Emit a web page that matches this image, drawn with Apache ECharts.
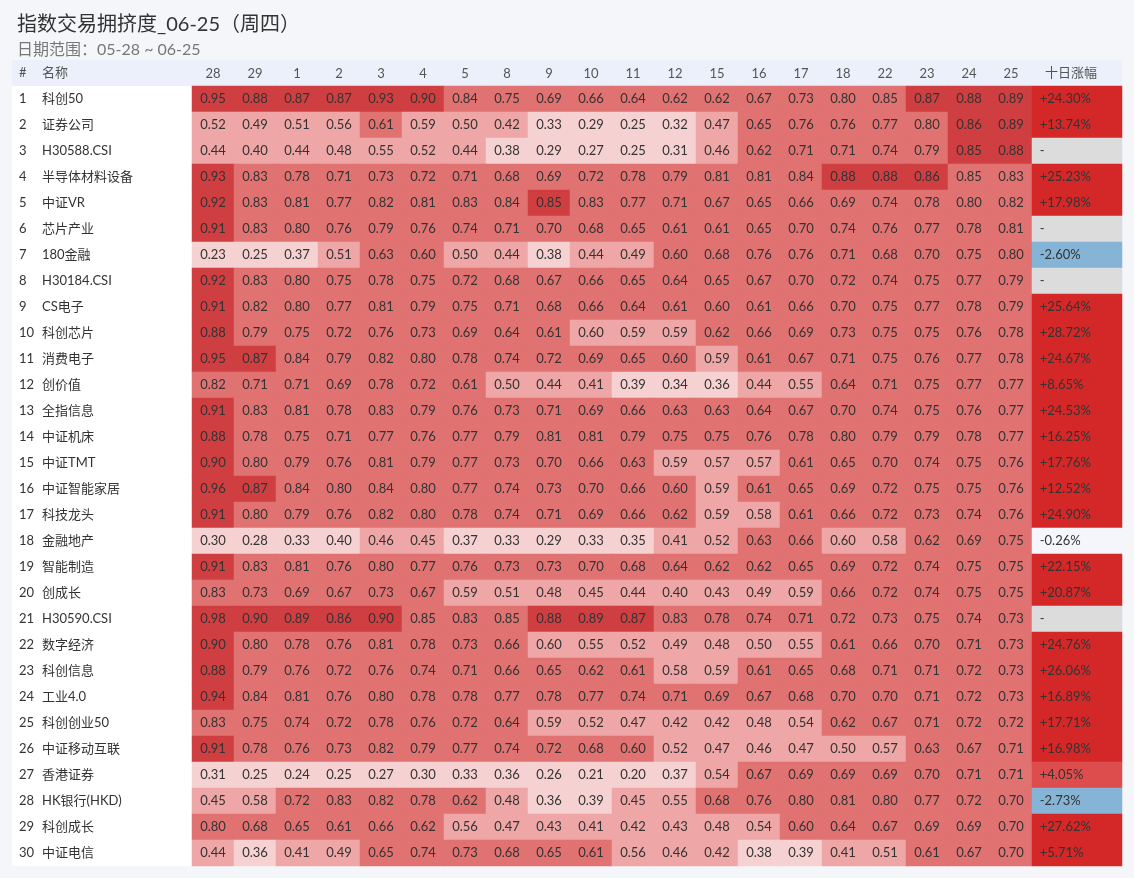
<!DOCTYPE html>
<html>
<head>
<meta charset="utf-8">
<script src="https://cdn.jsdelivr.net/npm/echarts@6/dist/echarts.min.js"></script>
<style>
html,body{margin:0;padding:0;background:#f4f6fa;}
#main{width:1134px;height:878px;}
</style>
</head>
<body>
<div id="main"></div>
<script>
const dates = ['28','29','1','2','3','4','5','8','9','10','11','12','15','16','17','18','22','23','24','25'];
const names = ['科创50','证券公司','H30588.CSI','半导体材料设备','中证VR','芯片产业','180金融','H30184.CSI','CS电子','科创芯片',
  '消费电子','创价值','全指信息','中证机床','中证TMT','中证智能家居','科技龙头','金融地产','智能制造','创成长',
  'H30590.CSI','数字经济','科创信息','工业4.0','科创创业50','中证移动互联','香港证券','HK银行(HKD)','科创成长','中证电信'];
const crowding = [
  [0.95,0.88,0.87,0.87,0.93,0.90,0.84,0.75,0.69,0.66,0.64,0.62,0.62,0.67,0.73,0.80,0.847,0.87,0.88,0.89],
  [0.52,0.49,0.51,0.56,0.61,0.59,0.50,0.42,0.33,0.29,0.25,0.32,0.47,0.65,0.76,0.76,0.77,0.80,0.86,0.89],
  [0.44,0.40,0.44,0.48,0.55,0.52,0.44,0.38,0.29,0.27,0.25,0.31,0.46,0.62,0.71,0.71,0.74,0.79,0.85,0.88],
  [0.93,0.83,0.78,0.71,0.73,0.72,0.71,0.68,0.69,0.72,0.78,0.79,0.81,0.81,0.84,0.88,0.88,0.86,0.848,0.83],
  [0.92,0.83,0.81,0.77,0.82,0.81,0.83,0.84,0.85,0.83,0.77,0.71,0.67,0.65,0.66,0.69,0.74,0.78,0.80,0.82],
  [0.91,0.83,0.80,0.76,0.79,0.76,0.74,0.71,0.70,0.68,0.65,0.61,0.61,0.65,0.70,0.74,0.76,0.77,0.78,0.81],
  [0.23,0.25,0.37,0.51,0.63,0.60,0.50,0.44,0.38,0.44,0.49,0.60,0.68,0.76,0.76,0.71,0.68,0.70,0.75,0.80],
  [0.92,0.83,0.80,0.75,0.78,0.75,0.72,0.68,0.67,0.66,0.65,0.64,0.65,0.67,0.70,0.72,0.74,0.75,0.77,0.79],
  [0.91,0.82,0.80,0.77,0.81,0.79,0.75,0.71,0.68,0.66,0.64,0.61,0.60,0.61,0.66,0.70,0.75,0.77,0.78,0.79],
  [0.88,0.79,0.75,0.72,0.76,0.73,0.69,0.64,0.61,0.598,0.59,0.59,0.62,0.66,0.69,0.73,0.75,0.75,0.76,0.78],
  [0.95,0.87,0.84,0.79,0.82,0.80,0.78,0.74,0.72,0.69,0.65,0.60,0.59,0.61,0.67,0.71,0.75,0.76,0.77,0.78],
  [0.82,0.71,0.71,0.69,0.78,0.72,0.61,0.50,0.44,0.41,0.39,0.34,0.36,0.44,0.55,0.64,0.71,0.75,0.77,0.77],
  [0.91,0.83,0.81,0.78,0.83,0.79,0.76,0.73,0.71,0.69,0.66,0.63,0.63,0.64,0.67,0.70,0.74,0.75,0.76,0.77],
  [0.88,0.78,0.75,0.71,0.77,0.76,0.77,0.79,0.81,0.81,0.79,0.75,0.75,0.76,0.78,0.80,0.79,0.79,0.78,0.77],
  [0.90,0.80,0.79,0.76,0.81,0.79,0.77,0.73,0.70,0.66,0.63,0.59,0.57,0.57,0.61,0.65,0.70,0.74,0.75,0.76],
  [0.96,0.87,0.84,0.80,0.84,0.80,0.77,0.74,0.73,0.70,0.66,0.60,0.59,0.61,0.65,0.69,0.72,0.75,0.75,0.76],
  [0.91,0.80,0.79,0.76,0.82,0.80,0.78,0.74,0.71,0.69,0.66,0.62,0.59,0.58,0.61,0.66,0.72,0.73,0.74,0.76],
  [0.30,0.28,0.33,0.398,0.46,0.45,0.37,0.33,0.29,0.33,0.35,0.41,0.52,0.63,0.66,0.598,0.58,0.62,0.69,0.75],
  [0.91,0.83,0.81,0.76,0.80,0.77,0.76,0.73,0.73,0.70,0.68,0.64,0.62,0.62,0.65,0.69,0.72,0.74,0.75,0.75],
  [0.83,0.73,0.69,0.67,0.73,0.67,0.59,0.51,0.48,0.45,0.44,0.40,0.43,0.49,0.59,0.66,0.72,0.74,0.75,0.75],
  [0.98,0.90,0.89,0.86,0.90,0.848,0.83,0.848,0.88,0.89,0.87,0.83,0.78,0.74,0.71,0.72,0.73,0.75,0.74,0.73],
  [0.90,0.80,0.78,0.76,0.81,0.78,0.73,0.66,0.598,0.55,0.52,0.49,0.48,0.50,0.55,0.61,0.66,0.70,0.71,0.73],
  [0.88,0.79,0.76,0.72,0.76,0.74,0.71,0.66,0.65,0.62,0.61,0.58,0.59,0.61,0.65,0.68,0.71,0.71,0.72,0.73],
  [0.94,0.84,0.81,0.76,0.80,0.78,0.78,0.77,0.78,0.77,0.74,0.71,0.69,0.67,0.68,0.70,0.70,0.71,0.72,0.73],
  [0.83,0.75,0.74,0.72,0.78,0.76,0.72,0.64,0.59,0.52,0.47,0.42,0.42,0.48,0.54,0.62,0.67,0.71,0.72,0.72],
  [0.91,0.78,0.76,0.73,0.82,0.79,0.77,0.74,0.72,0.68,0.60,0.52,0.47,0.46,0.47,0.50,0.57,0.63,0.67,0.71],
  [0.31,0.25,0.24,0.25,0.27,0.30,0.33,0.36,0.26,0.21,0.20,0.37,0.54,0.67,0.69,0.69,0.69,0.70,0.71,0.71],
  [0.45,0.58,0.72,0.83,0.82,0.78,0.62,0.48,0.36,0.39,0.45,0.55,0.68,0.76,0.80,0.81,0.80,0.77,0.72,0.70],
  [0.80,0.68,0.65,0.61,0.66,0.62,0.56,0.47,0.43,0.41,0.42,0.43,0.48,0.54,0.60,0.64,0.67,0.69,0.69,0.70],
  [0.44,0.36,0.41,0.49,0.65,0.74,0.73,0.68,0.65,0.61,0.56,0.46,0.42,0.38,0.39,0.41,0.51,0.61,0.67,0.70]
];
const change10d = [24.30,13.74,null,25.23,17.98,null,-2.60,null,25.64,28.72,24.67,8.65,24.53,16.25,17.76,12.52,24.90,-0.26,22.15,20.87,
  null,24.76,26.06,16.89,17.71,16.98,4.05,-2.73,27.62,5.71];

function cellColor(v){
  if (v >= 0.85) return '#cf3f41';
  if (v >= 0.60) return '#e07272';
  if (v >= 0.40) return '#eea6a6';
  return '#f6d1d1';
}
function changeColor(v){
  if (v === null) return '#dcdcdc';
  if (v >= 5) return '#d42828';
  if (v >= 2) return '#dd4d4d';
  if (v > -2) return '#f4f6fb';
  return '#85b4d6';
}
const FONT = 'Lato, "Noto Sans CJK SC", sans-serif';

const heatData = [];
crowding.forEach((row, i) => row.forEach((v, j) => {
  heatData.push({ value: [j, i, v], itemStyle: { color: cellColor(v) } });
}));
const changeData = change10d.map((v, i) => ({
  value: [0, i, v === null ? 0 : v],
  raw: v,
  itemStyle: { color: changeColor(v) }
}));

const chart = echarts.init(document.getElementById('main'));
chart.setOption({
  backgroundColor: '#f4f6fa',
  animation: false,
  title: [
    { text: '指数交易拥挤度_06-25（周四）', left: 12, top: 10,
      textStyle: { fontFamily: FONT, fontSize: 20, fontWeight: 'normal', color: '#333' } },
    { text: '日期范围：05-28 ~ 06-25', left: 12, top: 37,
      textStyle: { fontFamily: FONT, fontSize: 16, fontWeight: 'normal', color: '#777' } }
  ],
  graphic: [
    { type: 'rect', shape: { x: 12, y: 60, width: 1110, height: 26 }, style: { fill: '#ebf0fb' }, z: -10 },
    { type: 'rect', shape: { x: 12, y: 86, width: 1110, height: 780 }, style: { fill: '#ffffff' }, z: -10 },
    { type: 'text', x: 19, y: 73, style: { text: '#', fill: '#555', fontSize: 13, fontFamily: FONT, verticalAlign: 'middle' } },
    { type: 'text', x: 42, y: 73, style: { text: '名称', fill: '#555', fontSize: 13, fontFamily: FONT, verticalAlign: 'middle' } },
    { type: 'text', x: 1045, y: 73, style: { text: '十日涨幅', fill: '#555', fontSize: 13, fontFamily: FONT, verticalAlign: 'middle' } }
  ],
  grid: [
    { left: 192, top: 86, width: 840, height: 780 },
    { left: 1032, top: 86, width: 90, height: 780 }
  ],
  xAxis: [
    { type: 'category', data: dates, position: 'top', gridIndex: 0,
      axisLine: { show: false }, axisTick: { show: false }, splitLine: { show: false },
      axisLabel: { margin: 6, fontSize: 13, color: '#555', fontFamily: FONT } },
    { type: 'category', data: [''], position: 'top', gridIndex: 1,
      axisLine: { show: false }, axisTick: { show: false }, axisLabel: { show: false } }
  ],
  yAxis: [
    { type: 'category', data: names, inverse: true, gridIndex: 0,
      axisLine: { show: false }, axisTick: { show: false }, splitLine: { show: false },
      axisLabel: {
        align: 'left', margin: 173,
        formatter: (val, idx) => '{n|' + (idx + 1) + '}{m|' + val + '}',
        rich: {
          n: { width: 23, fontSize: 13, color: '#333', fontFamily: FONT },
          m: { fontSize: 13, color: '#333', fontFamily: FONT }
        }
      } },
    { type: 'category', data: names, inverse: true, gridIndex: 1,
      axisLine: { show: false }, axisTick: { show: false }, axisLabel: { show: false } }
  ],
  series: [
    { type: 'heatmap', xAxisIndex: 0, yAxisIndex: 0, data: heatData,
      label: { show: true, fontSize: 13, color: '#333', fontFamily: FONT,
        formatter: p => p.value[2].toFixed(2) },
      emphasis: { disabled: true } },
    { type: 'heatmap', xAxisIndex: 1, yAxisIndex: 1, data: changeData,
      label: { show: true, position: 'insideLeft', distance: 8, fontSize: 13, color: '#333', fontFamily: FONT,
        formatter: p => {
          const v = p.data.raw;
          if (v === null) return '-';
          return (v > 0 ? '+' : '') + v.toFixed(2) + '%';
        } },
      emphasis: { disabled: true } }
  ]
});
</script>
</body>
</html>
